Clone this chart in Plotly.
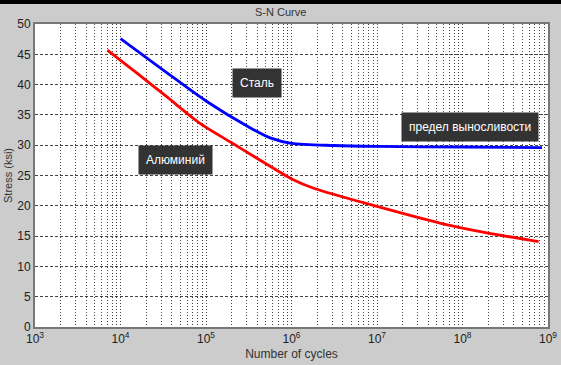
import numpy as np
import plotly.graph_objects as go

# Data
steel_cycles = [1e4, 10**4.5, 1e5, 10**5.5, 10**5.75, 1e6, 10**6.5, 1e7, 1e8, 10**8.93]
steel_stress = [47.6, 42.4, 37.3, 33.0, 31.2, 30.3, 29.95, 29.8, 29.7, 29.6]
alum_cycles = [10**3.846, 10**4.2, 10**4.54, 10**4.93, 10**5.3, 10**5.59, 10**6.02, 10**6.26, 1e7, 10**7.81, 10**8.3, 10**8.89]
alum_stress = [45.7, 41.8, 38.0, 33.6, 30.4, 27.9, 24.3, 22.9, 19.9, 16.9, 15.5, 14.1]
x_tick_vals = [1e3, 1e4, 1e5, 1e6, 1e7, 1e8, 1e9]
x_tick_text = ["10<sup>3</sup>", "10<sup>4</sup>", "10<sup>5</sup>", "10<sup>6</sup>",
               "10<sup>7</sup>", "10<sup>8</sup>", "10<sup>9</sup>"]
y_tick_vals = [0, 5, 10, 15, 20, 25, 30, 35, 40, 45, 50]
labels = ["Сталь", "Алюминий", "предел выносливости"]
label_x = [5.60, 4.64, 8.09]
label_y = [40.3, 27.6, 33.0]

FONT = "Liberation Sans, Arial, sans-serif"

fig = go.Figure()
fig.add_trace(go.Scatter(x=steel_cycles, y=steel_stress, mode="lines",
                         line=dict(color="#0000ff", width=2.8, shape="spline", smoothing=0.8),
                         showlegend=False))
fig.add_trace(go.Scatter(x=alum_cycles, y=alum_stress, mode="lines",
                         line=dict(color="#ff0000", width=2.8, shape="spline", smoothing=0.8),
                         showlegend=False))

for t, ax, ay in zip(labels, label_x, label_y):
    fig.add_annotation(x=ax, y=ay, xref="x", yref="y", text=t, showarrow=False,
                       font=dict(family=FONT, size=12, color="white"),
                       bgcolor="#333333", borderpad=7)

fig.update_layout(
    width=561, height=365,
    margin=dict(l=35, r=13, t=24, b=38),
    paper_bgcolor="#cccccc", plot_bgcolor="white",
    font=dict(family=FONT, size=12, color="#222222"),
)
fig.add_annotation(text="S-N Curve", xref="paper", yref="paper", x=0.478, y=1 + 12/303,
                   xanchor="center", yanchor="middle", showarrow=False,
                   font=dict(family=FONT, size=11, color="#333333"))
fig.update_xaxes(type="log", range=[3, 9], tickvals=x_tick_vals, ticktext=x_tick_text,
                 automargin=False,
                 showline=True, linecolor="#777777", linewidth=2, mirror=True,
                 ticks="", showgrid=True, gridcolor="#444444", griddash="1px,2px", gridwidth=1,
                 minor=dict(showgrid=True, gridcolor="#444444", griddash="1px,2px", gridwidth=1,
                            dtick="D1"),
                 title=dict(text="Number of cycles", standoff=4,
                            font=dict(family=FONT, size=12, color="#333333")),
                 tickfont=dict(family=FONT, size=12, color="#222222"),
                 zeroline=False)
fig.update_yaxes(range=[0, 50], tickvals=y_tick_vals, automargin=False,
                 showline=True, linecolor="#777777", linewidth=2, mirror=True,
                 ticks="", showgrid=True, gridcolor="#444444", griddash="3px,2px", gridwidth=1,
                 title=dict(text="Stress (ksi)", standoff=2,
                            font=dict(family=FONT, size=11, color="#333333")),
                 tickfont=dict(family=FONT, size=12, color="#222222"),
                 zeroline=False)

fig.add_shape(type="rect", xref="paper", yref="paper", x0=-0.1, x1=1.1,
              y0=1.0 + 20/303, y1=1.2, fillcolor="black", line=dict(width=0), layer="above")

fig.write_html("out.html", config={"displayModeBar": False},
               post_script="document.body.style.margin='0px';document.body.style.overflow='hidden';")
